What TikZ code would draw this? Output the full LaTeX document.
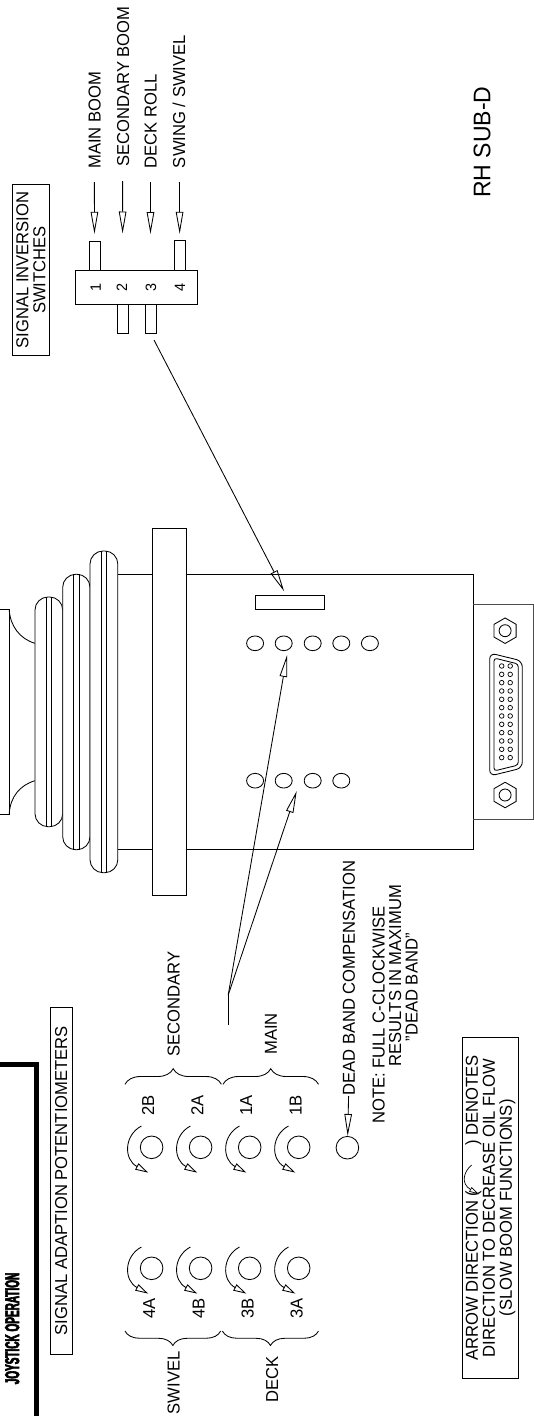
\documentclass[tikz,border=0pt]{standalone}
\usepackage{fontspec}
\setmainfont{Liberation Sans}[FakeStretch=0.96]
\newfontfamily\titlefont[FakeStretch=0.5,FakeBold=3]{Liberation Sans Bold}
\usepackage{tikz}
\usetikzlibrary{arrows.meta,shapes.geometric,decorations.pathreplacing}

\begin{document}
\begin{tikzpicture}[x=1pt,y=-1pt,line width=0.85pt,
lbl/.style={rotate=90,inner sep=0pt,font=\fontsize{17.3}{17}\selectfont,text height=12.4pt,text depth=0pt},
para/.style={rotate=90,inner sep=0pt,align=center,font=\fontsize{17.3}{17}\selectfont},
num/.style={rotate=90,inner sep=0pt,font=\fontsize{15}{15}\selectfont},
openarrow/.style={-{Triangle[open,length=22pt,width=7.5pt]}},
turnarrow/.style={-{Triangle[open,length=13pt,width=7pt]}},
pot/.style={draw,circle,inner sep=0pt,minimum size=22.6pt},
hole/.style={draw,ellipse,inner sep=0pt,minimum width=17pt,minimum height=14.7pt},
nut/.style={draw,regular polygon,regular polygon sides=6,shape border rotate=90,inner sep=0pt,minimum size=25.5pt},
curly/.style={decorate,decoration={brace,amplitude=#1}}]
\useasboundingbox (0,0) rectangle (534,1416);

% switches
\node[draw,para,minimum width=171.4pt,minimum height=36.8pt] (sig_sw) at (31,270) {SIGNAL INVERSION\\SWITCHES};
\node[lbl,anchor=west] (l_main) at (94.3,169) {MAIN BOOM};
\node[lbl,anchor=west] (l_sec) at (122.8,167) {SECONDARY BOOM};
\node[lbl,anchor=west] (l_deck) at (150.4,168.5) {DECK ROLL};
\node[lbl,anchor=west] (l_swing) at (179,168.5) {SWING / SWIVEL};
\node[draw,minimum width=11pt,minimum height=28.6pt,inner sep=0pt] (pin_1) at (94.5,256) {};
\node[draw,minimum width=11pt,minimum height=29.6pt,inner sep=0pt] (pin_4) at (179.8,255.5) {};
\node[draw,minimum width=11pt,minimum height=29pt,inner sep=0pt] (pin_2) at (123,318.8) {};
\node[draw,minimum width=11pt,minimum height=29pt,inner sep=0pt] (pin_3) at (150.8,318.8) {};
\node[draw,fill=white,minimum width=121.6pt,minimum height=34pt,inner sep=0pt] (sw_body) at (136.4,287.3) {};
\node[num] (n_1) at (95.7,287.3) {1};
\node[num] (n_2) at (122,287.3) {2};
\node[num] (n_3) at (151,287.3) {3};
\node[num] (n_4) at (180,287.3) {4};
\node[lbl,anchor=west,font=\fontsize{24}{24}\selectfont,text height=17.3pt] (l_rh) at (481.6,198.3) {RH SUB-D};

% joystick body
\draw (117.5,574.3) rectangle (473.4,849);
\draw[black!70] (473.4,604.3) -- (533.4,604.3) -- (533.4,819) -- (473.4,819);
\draw (0,609.3) -- (9.2,609.3) -- (9.2,814.3) -- (0,814.3);
\draw (9.2,609.3) .. controls (10,626) and (20,639) .. (35,643.3);
\draw (9.2,814.3) .. controls (10,797) and (20,785) .. (35,780.7);
\draw[rounded corners=13pt,fill=white] (35,597) rectangle (62.7,826.7);
\draw[rounded corners=13pt,fill=white] (62.7,574.3) rectangle (90,849.7);
\draw[rounded corners=13pt,fill=white] (90,551) rectangle (117.8,872.7);
\draw (46.7,597) -- (46.7,826.7) (51.8,597) -- (51.8,826.7);
\draw (73.9,574.3) -- (73.9,849.7) (79,574.3) -- (79,849.7);
\draw (101.8,551) -- (101.8,872.7) (106.6,551) -- (106.6,872.7);
\draw[fill=white] (152.2,528.3) rectangle (186.6,895);
\node[draw,minimum width=68.8pt,minimum height=14pt,inner sep=0pt] (slot) at (289.8,602.3) {};

\node[hole] (h_u1) at (255.1,643.3) {};
\node[hole] (h_u2) at (283.7,643.3) {};
\node[hole] (h_u3) at (312.7,643.3) {};
\node[hole] (h_u4) at (341.3,643.3) {};
\node[hole] (h_u5) at (369.9,643.3) {};
\node[hole] (h_l1) at (255.1,780.7) {};
\node[hole] (h_l2) at (283.7,780.7) {};
\node[hole] (h_l3) at (312.7,780.7) {};
\node[hole] (h_l4) at (341.3,780.7) {};

% sub-d plug
\node[nut] (nut_a) at (505.1,630.7) {};
\node[nut] (nut_b) at (505.1,795) {};
\node[draw,circle,inner sep=0pt,minimum size=12pt] at (nut_a) {};
\node[draw,circle,inner sep=0pt,minimum size=12pt] at (nut_b) {};
\draw[rounded corners=6pt] (489.7,653) -- (522.3,661) -- (522.3,768) -- (489.7,776) -- cycle;
\draw[rounded corners=3pt] (494,658) -- (518.3,664) -- (518.3,765) -- (494,771) -- cycle;
\foreach \row in {0,...,11} {
  \draw[line width=0.7pt] (501.7,666+8.33*\row) circle (2.3);
  \draw[line width=0.7pt] (510.2,666+8.33*\row) circle (2.3);
}

% potentiometers
\node[draw,para,minimum width=347pt,minimum height=22.2pt] (sig_pot) at (61.1,1180.8) {SIGNAL ADAPTION POTENTIOMETERS};
\node[pot] (p_2b) at (151.6,1147.3) {};
\node[pot] (p_2a) at (200.6,1147.3) {};
\node[pot] (p_1a) at (249.7,1147.3) {};
\node[pot] (p_1b) at (298.7,1147.3) {};
\node[pot] (p_4a) at (151.6,1268.3) {};
\node[pot] (p_4b) at (200.6,1268.3) {};
\node[pot] (p_3b) at (249.7,1268.3) {};
\node[pot] (p_3a) at (298.7,1268.3) {};
\node[pot] (p_db) at (347.4,1147.7) {};
\foreach \p in {p_2b,p_2a,p_1a,p_1b,p_4a,p_4b,p_3b,p_3a}
  \draw[turnarrow] ([shift={(-10.2,-21.3)}]\p.center) .. controls +(-17.5,9.3) and +(-24.6,-13.3) .. +(6.8,46.6);
\node[lbl,anchor=west] (l_2b) at (148,1116) {2B};
\node[lbl,anchor=west] (l_2a) at (197.2,1116) {2A};
\node[lbl,anchor=west] (l_1a) at (246,1116) {1A};
\node[lbl,anchor=west] (l_1b) at (295.3,1116) {1B};
\node[lbl,anchor=west] (l_4a) at (148.9,1319.3) {4A};
\node[lbl,anchor=west] (l_4b) at (198.3,1319.3) {4B};
\node[lbl,anchor=west] (l_3b) at (247.3,1319.3) {3B};
\node[lbl,anchor=west] (l_3a) at (296.3,1319.3) {3A};
\draw[curly=15.6pt] (125,1084.3) -- (221.4,1084.3);
\draw[curly=15.6pt] (223,1084.3) -- (318.5,1084.3);
\draw[curly=14.5pt] (220.7,1331) -- (125,1331);
\draw[curly=14.5pt] (318.5,1331) -- (222.4,1331);
\node[lbl,anchor=west] (l_secy) at (173.4,1056.7) {SECONDARY};
\node[lbl,anchor=west] (l_mn) at (270.6,1055) {MAIN};
\node[lbl,anchor=east] (l_swv) at (173.4,1351) {SWIVEL};
\node[lbl,anchor=east] (l_dk) at (272,1356) {DECK};
\node[lbl,anchor=west] (l_dead) at (348.6,1096) {DEAD BAND COMPENSATION};
\node[lbl,anchor=west] (note_a) at (378.4,1124.3) {NOTE: FULL C-CLOCKWISE};
\node[lbl,anchor=west] (note_b) at (395,1066.7) {RESULTS IN MAXIMUM};
\node[lbl,anchor=west] (note_c) at (411.5,1041.7) {"DEAD BAND"};

\node[draw,para,minimum width=341pt,minimum height=55.9pt] (key) at (490.4,1207.8)
  {ARROW DIRECTION (\hspace*{45pt}) DENOTES\\DIRECTION TO DECREASE OIL FLOW\\(SLOW BOOM FUNCTIONS)};
\coordinate (key_a) at (471.7,1165);
\coordinate (key_b) at (479,1194.3);
\draw[-{Triangle[open,length=10pt,width=5pt]},line width=0.7pt] (key_a) .. controls (463,1172) and (461,1184) .. (key_b);

\draw[line width=5pt] (0,1064.5) -- (36.6,1064.5) -- (36.6,1416);
\node[rotate=90,inner sep=0pt,font=\titlefont\fontsize{20}{20}\selectfont] (title) at (12.2,1328.5) {JOYSTICK OPERATION};

% pointers
\coordinate (a_2) at (122.6,233.5);
\coordinate (a_3) at (150.5,234);
\coordinate (t_sw) at (154,340);
\coordinate (t_pot) at (228.2,995);
\coordinate (t_end) at (228.2,1025);
\coordinate (tip_a) at (287.1,655);
\coordinate (tip_b) at (296.7,791);
\path[openarrow]
(l_main) edge [shorten <=13pt,shorten >=7.4pt] (pin_1)
(l_sec) edge [shorten <=14pt] (a_2)
(l_deck) edge [shorten <=13.5pt] (a_3)
(l_swing) edge [shorten <=13.5pt,shorten >=6.4pt] (pin_4)
(t_sw) edge [shorten >=4pt] (slot)
(t_pot) edge (tip_a)
(t_pot) edge (tip_b)
(l_dead.west) edge (p_db)
; %end path
\draw (t_end) -- (t_pot);
\end{tikzpicture}
\end{document}
